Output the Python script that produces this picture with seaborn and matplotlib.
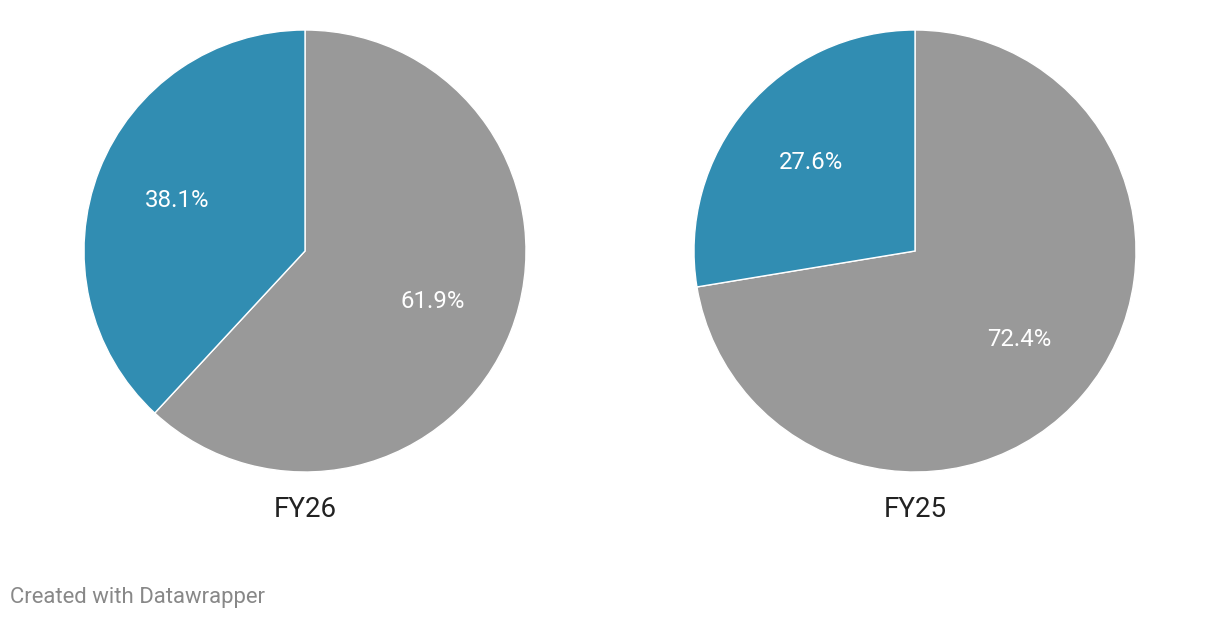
import matplotlib.pyplot as plt
import seaborn as sns

# shares per fiscal year: [gray segment, blue segment]
years = ["FY26", "FY25"]
gray_share = [61.9, 72.4]
blue_share = [38.1, 27.6]
slice_colors = ["#999999", "#318db2"]


def draw_pie(ax, values, title):
    ax.pie(
        values,
        colors=slice_colors,
        startangle=90,
        counterclock=False,
        autopct=lambda p: f"{p:.1f}%",
        pctdistance=0.62,
        wedgeprops={"edgecolor": "white", "linewidth": 1.0},
        textprops={"color": "white", "fontsize": 17.3},
    )
    ax.set_aspect("equal")
    ax.text(0, -1.11, title, ha="center", va="top", fontsize=20, color="#222222")


def main() -> None:
    sns.set_theme(style="white")
    plt.rcParams["font.family"] = ["Roboto", "DejaVu Sans"]

    fig = plt.figure(figsize=(12.2, 6.2), dpi=100)
    fig.patch.set_facecolor("white")

    width = 442 / 1220
    height = 442 / 620
    bottom = (620 - 472) / 620
    lefts = [(305 - 221) / 1220, (915 - 221) / 1220]

    for left, year, g, b in zip(lefts, years, gray_share, blue_share):
        ax = fig.add_axes([left, bottom, width, height])
        draw_pie(ax, [g, b], year)
        ax.set_xlim(-1, 1)
        ax.set_ylim(-1, 1)

    fig.text(10 / 1220, 1 - 597 / 620, "Created with Datawrapper",
             ha="left", va="center", fontsize=15.9, color="#888888")

    fig.savefig("out.png", dpi=100, facecolor="white")
    plt.close(fig)


if __name__ == "__main__":
    main()
